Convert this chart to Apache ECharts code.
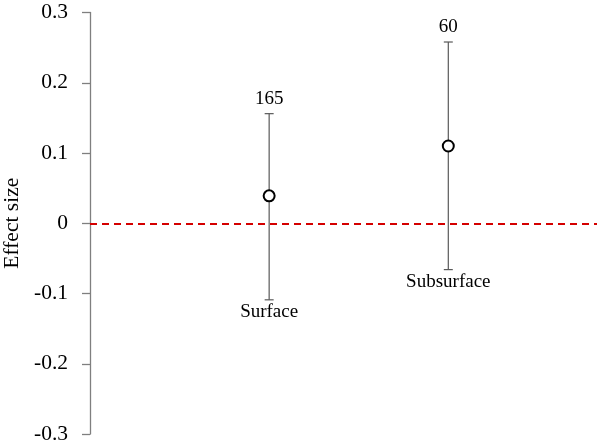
<!DOCTYPE html>
<html>
<head>
<meta charset="utf-8">
<script src="https://cdn.jsdelivr.net/npm/echarts@6/dist/echarts.min.js"></script>
<style>html,body{margin:0;padding:0;background:#fff}#c{width:600px;height:447px}</style>
</head>
<body>
<div id="c"></div>
<script>
const categories = ['Surface', 'Subsurface'];
const effectSize = [0.039, 0.110];
const ciLow = [-0.109, -0.066];
const ciHigh = [0.156, 0.258];
const sampleSizes = ['165', '60'];
const yTicks = [-0.3, -0.2, -0.1, 0, 0.1, 0.2, 0.3];

const FONT = '"Liberation Serif", "Times New Roman", serif';
const xPos = categories.map((c, i) => i + 1);

const chart = echarts.init(document.getElementById('c'));
chart.setOption({
  animation: false,
  grid: { left: 90, right: 3, top: 12.5, bottom: 13, containLabel: false, outerBoundsMode: 'none' },
  xAxis: { type: 'value', min: 0, max: 2.83, show: false },
  yAxis: {
    type: 'value', min: yTicks[0], max: yTicks[yTicks.length - 1], interval: 0.1,
    name: 'Effect size', nameLocation: 'middle', nameGap: 62,
    nameTextStyle: { fontFamily: FONT, fontSize: 21.5, color: '#000' },
    axisLine: { show: true, lineStyle: { color: '#7f7f7f', width: 1.3 } },
    axisTick: { show: true, length: 8, lineStyle: { color: '#7f7f7f', width: 1.3 } },
    splitLine: { show: false },
    axisLabel: {
      margin: 22, fontFamily: FONT, fontSize: 21.5, color: '#000',
      formatter: v => { const r = Math.round(v * 10) / 10; return r === 0 ? '0' : String(r); }
    }
  },
  series: [
    {
      type: 'custom',
      data: xPos.map((x, i) => [x, ciLow[i], ciHigh[i], i]),
      renderItem: function (params, api) {
        const x = api.value(0), lo = api.value(1), hi = api.value(2), i = api.value(3);
        const pLo = api.coord([x, lo]), pHi = api.coord([x, hi]);
        const cap = 4.5;
        const st = { stroke: '#595959', lineWidth: 1.2 };
        return {
          type: 'group',
          children: [
            { type: 'line', shape: { x1: pLo[0], y1: pLo[1], x2: pHi[0], y2: pHi[1] }, style: st },
            { type: 'line', shape: { x1: pLo[0] - cap, y1: pLo[1], x2: pLo[0] + cap, y2: pLo[1] }, style: st },
            { type: 'line', shape: { x1: pHi[0] - cap, y1: pHi[1], x2: pHi[0] + cap, y2: pHi[1] }, style: st },
            { type: 'text', x: pHi[0], y: pHi[1] - 5, style: { text: sampleSizes[i], fontFamily: FONT, fontSize: 19, fill: '#000', align: 'center', verticalAlign: 'bottom' } },
            { type: 'text', x: pLo[0], y: pLo[1] + 3, style: { text: categories[i], fontFamily: FONT, fontSize: 19, fill: '#000', align: 'center', verticalAlign: 'top' } }
          ]
        };
      },
      z: 3
    },
    {
      type: 'scatter',
      data: xPos.map((x, i) => [x, effectSize[i]]),
      symbol: 'circle', symbolSize: 11,
      itemStyle: { color: '#fff', borderColor: '#000', borderWidth: 2, opacity: 1 },
      z: 5,
      markLine: {
        silent: true, symbol: 'none', label: { show: false },
        lineStyle: { color: '#d40000', type: [7, 5], width: 1.8 },
        data: [{ yAxis: 0 }]
      }
    }
  ]
});
</script>
</body>
</html>
